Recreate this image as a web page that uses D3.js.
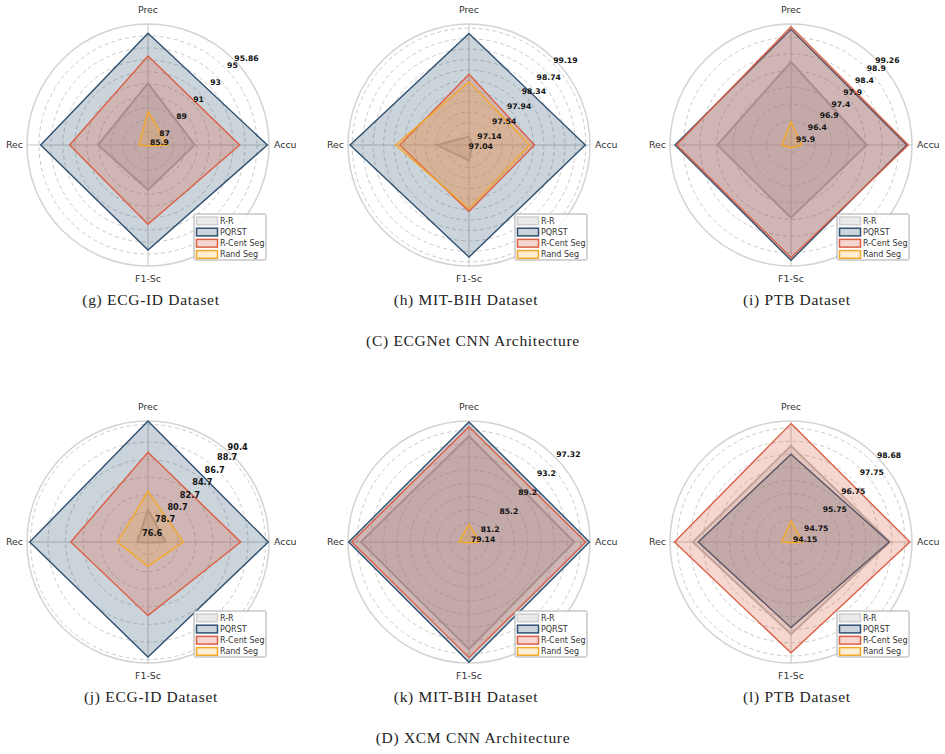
<!DOCTYPE html>
<html>
<head>
<meta charset="utf-8">
<script src="https://cdn.jsdelivr.net/npm/d3@7"></script>
<style>
  body { margin: 0; background: #fff; }
  svg { display: block; }
</style>
</head>
<body>
<div class="chart"></div>
<script>
// axes run clockwise starting at the top
var axisNames = ["Prec", "Accu", "F1-Sc", "Rec"];
var seriesNames = ["R-R", "PQRST", "R-Cent Seg", "Rand Seg"];

// rows: R-R, PQRST, R-Cent Seg, Rand Seg ; columns follow axisNames
var gValues = [
  [91.05, 89.80, 89.66, 90.07],
  [95.22, 95.86, 94.66, 94.86],
  [93.33, 93.55, 92.52, 92.44],
  [88.68, 87.57, 85.98, 86.65]
];
var gTicks = [85.9, 87, 89, 91, 93, 95, 95.86];
var gRange = [85.9, 96.0];

var hValues = [
  [97.13, 97.04, 97.27, 97.58],
  [99.10, 99.19, 99.11, 99.24],
  [98.32, 98.22, 98.24, 98.29],
  [98.18, 98.13, 98.19, 98.37]
];
var hTicks = [97.04, 97.14, 97.54, 97.94, 98.34, 98.74, 99.19];
var hRange = [96.97, 99.28];

var iValues = [
  [98.26, 98.04, 97.95, 97.98],
  [99.24, 99.24, 99.23, 99.25],
  [99.32, 99.29, 99.15, 99.20],
  [96.47, 96.09, 95.85, 96.05]
];
var iTicks = [95.9, 96.4, 96.9, 97.4, 97.9, 98.4, 98.9, 99.26];
var iRange = [95.77, 99.40];

var jValues = [
  [80.28, 78.62, 76.70, 77.82],
  [90.40, 90.32, 89.71, 90.09],
  [86.83, 87.17, 85.00, 85.41],
  [82.38, 80.63, 79.37, 80.10]
];
var jTicks = [76.6, 78.7, 80.7, 82.7, 84.7, 86.7, 88.7, 90.4];
var jRange = [76.6, 90.4];

var kValues = [
  [95.13, 95.02, 95.32, 95.47],
  [97.25, 97.32, 97.28, 97.30],
  [96.53, 96.74, 96.59, 96.83],
  [81.81, 80.80, 79.25, 80.65]
];
var kTicks = [79.14, 81.2, 85.2, 89.2, 93.2, 97.32];
var kRange = [79.14, 97.40];

var lValues = [
  [97.82, 97.93, 97.67, 97.90],
  [97.50, 97.90, 97.42, 97.69],
  [98.67, 98.69, 98.38, 98.60],
  [94.95, 94.60, 94.18, 94.51]
];
var lTicks = [94.15, 94.75, 95.75, 96.75, 97.75, 98.68];
var lRange = [94.15, 98.77];

var captions = ["(g) ECG-ID Dataset", "(h) MIT-BIH Dataset", "(i) PTB Dataset",
                "(j) ECG-ID Dataset", "(k) MIT-BIH Dataset", "(l) PTB Dataset"];
var rowTitles = ["(C) ECGNet CNN Architecture", "(D) XCM CNN Architecture"];

var panels = [
  { values: gValues, ticks: gTicks, range: gRange, grid: 10 },
  { values: hValues, ticks: hTicks, range: hRange, grid: 10 },
  { values: iValues, ticks: iTicks, range: iRange, grid: 8 },
  { values: jValues, ticks: jTicks, range: jRange, grid: 7 },
  { values: kValues, ticks: kTicks, range: kRange, grid: 10 },
  { values: lValues, ticks: lTicks, range: lRange, grid: 10 }
];

var strokeColors = ["#b9b9b9", "#2f5070", "#dc5f45", "#f4a82a"];
var fillOpacity = [0.3, 0.25, 0.25, 0.2];

var svg = d3.select(".chart").append("svg")
  .attr("width", 945)
  .attr("height", 754);

var radius = 121;
var colX = [148, 469, 791];
var rowY = [145, 542];
var captionX = [151, 466, 797];

var angle = d3.scaleLinear().domain([0, axisNames.length]).range([0, 2 * Math.PI]);

panels.forEach(function(p, k) {
  var cx = colX[k % 3], cy = rowY[Math.floor(k / 3)];
  var chart = svg.append("g").attr("transform", `translate(${cx}, ${cy})`);

  var r = d3.scaleLinear().domain(p.range).range([0, radius]);

  // dashed rings
  chart.selectAll(".ring")
    .data(r.ticks(p.grid).filter(t => t > p.range[0] && t < p.range[1]))
    .enter().append("circle")
    .attr("r", d => r(d))
    .attr("fill", "none")
    .attr("stroke", "#bdbdbd")
    .attr("stroke-width", 0.8)
    .attr("stroke-dasharray", "4,3");

  chart.append("circle")
    .attr("r", radius)
    .attr("fill", "none")
    .attr("stroke", "#d3d3d3")
    .attr("stroke-width", 1.5);

  // spokes
  axisNames.forEach(function(a, i) {
    var t = angle(i);
    chart.append("line")
      .attr("x1", 0).attr("y1", 0)
      .attr("x2", radius * Math.sin(t))
      .attr("y2", -radius * Math.cos(t))
      .attr("stroke", "#c4c4c4")
      .attr("stroke-width", 1);
  });

  var radar = d3.lineRadial()
    .angle((d, i) => angle(i))
    .radius(d => r(d))
    .curve(d3.curveLinearClosed);

  p.values.forEach(function(vals, s) {
    chart.append("path")
      .attr("d", radar(vals))
      .attr("fill", strokeColors[s])
      .attr("fill-opacity", fillOpacity[s])
      .attr("stroke", strokeColors[s])
      .attr("stroke-width", s == 0 ? 1.9 : 1.4)
      .attr("stroke-linejoin", "miter");
  });

  // axis names
  chart.append("text").attr("x", 0).attr("y", -radius - 14)
    .attr("text-anchor", "middle").attr("dominant-baseline", "middle").text(axisNames[0]);
  chart.append("text").attr("x", radius + 5).attr("y", 0)
    .attr("text-anchor", "start").attr("dominant-baseline", "middle").text(axisNames[1]);
  chart.append("text").attr("x", 0).attr("y", radius + 13)
    .attr("text-anchor", "middle").attr("dominant-baseline", "middle").text(axisNames[2]);
  chart.append("text").attr("x", -radius - 4).attr("y", 0)
    .attr("text-anchor", "end").attr("dominant-baseline", "middle").text(axisNames[3]);
  chart.selectAll("text")
    .attr("font-family", "DejaVu Sans")
    .attr("font-size", "9.4px")
    .attr("fill", "#333");

  // radial tick labels along 45 degrees
  var dx = k == 3 ? -6 : 2, dy = k == 3 ? -9 : -2;
  chart.selectAll(".rlabel")
    .data(p.ticks)
    .enter().append("text")
    .attr("x", (d, i) => r(d) * Math.SQRT1_2 + dx + (k == 1 && i == 0 ? -5 : 0))
    .attr("y", (d, i) => -r(d) * Math.SQRT1_2 + dy + (k == 1 && i == 0 ? 6 : 0))
    .attr("dominant-baseline", "middle")
    .attr("font-family", "DejaVu Sans")
    .attr("font-weight", "bold")
    .attr("font-size", k == 3 ? "8.2px" : "7.7px")
    .attr("fill", "#111")
    .text(d => d);

  // legend
  var legend = chart.append("g").attr("transform", "translate(46, 69)");
  legend.append("rect")
    .attr("width", 72).attr("height", 46)
    .attr("rx", 1.5)
    .attr("fill", "#fff").attr("fill-opacity", 0.85)
    .attr("stroke", "#a8a8a8").attr("stroke-width", 1);
  seriesNames.forEach(function(name, s) {
    var y = 3 + s * 11.2;
    legend.append("rect")
      .attr("x", 2.5).attr("y", y)
      .attr("width", 21).attr("height", 7.7)
      .attr("fill", strokeColors[s]).attr("fill-opacity", fillOpacity[s])
      .attr("stroke", s == 0 ? "#cfcfcf" : strokeColors[s]).attr("stroke-width", 1.5);
    legend.append("text")
      .attr("x", 26).attr("y", y + 4)
      .attr("dominant-baseline", "middle")
      .attr("font-family", "DejaVu Sans")
      .attr("font-size", "8px")
      .attr("fill", "#333")
      .text(name);
  });

  svg.append("text")
    .attr("x", captionX[k % 3])
    .attr("y", cy + 156)
    .attr("text-anchor", "middle")
    .attr("dominant-baseline", "middle")
    .attr("font-family", "Liberation Serif")
    .attr("font-size", "15.5px")
    .attr("letter-spacing", "0.7px")
    .attr("fill", "#222")
    .text(captions[k]);
});

rowTitles.forEach(function(t, i) {
  svg.append("text")
    .attr("x", 473)
    .attr("y", rowY[i] + 197)
    .attr("text-anchor", "middle")
    .attr("dominant-baseline", "middle")
    .attr("font-family", "Liberation Serif")
    .attr("font-size", "15.5px")
    .attr("letter-spacing", "0.7px")
    .attr("fill", "#222")
    .text(t);
});
</script>
</body>
</html>
